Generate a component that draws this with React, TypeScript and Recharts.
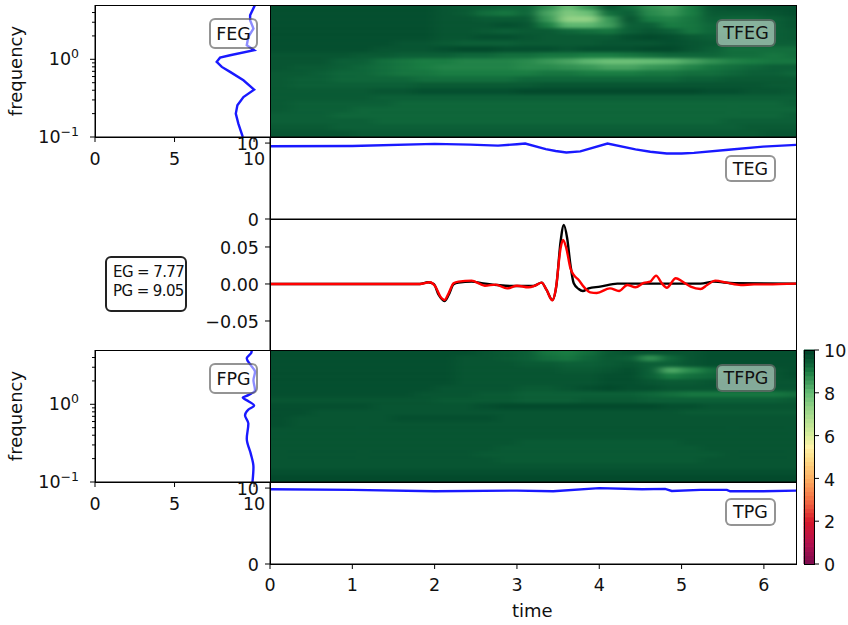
import React from 'react';
import { LineChart, Line, XAxis, YAxis, ReferenceArea } from 'recharts';

const W = 848;
const H = 625;
const FONT = '"DejaVu Sans", sans-serif';

// time / frequency edges of the spectrogram cells (outer edges run past the panel, they get clipped)
const TIME_EDGES = [-0.5, 0.25, 0.5, 0.75, 1, 1.25, 1.5, 1.75, 2, 2.25, 2.5, 2.75, 3, 3.25, 3.5, 3.75, 4, 4.25, 4.5, 4.75, 5, 5.25, 5.5, 5.75, 6, 6.25, 6.9];
const FREQ_EDGES = [0.07, 0.1195, 0.1428, 0.1706, 0.2039, 0.2437, 0.2912, 0.348, 0.4159, 0.497, 0.5939, 0.7098, 0.8482, 1.0137, 1.2114, 1.4477, 1.7301, 2.0676, 2.4709, 2.9529, 3.5289, 4.2173, 7];

// rows run from the top of the panel down
const TFEG_ROWS = [
  [9.7, 9.7, 9.7, 9.7, 9.7, 9.7, 9.7, 9.7, 9.6, 9.5, 9.4, 9.3, 9.3, 8.7, 7.9, 8.6, 9.6, 9.2, 8.7, 8.5, 9.0, 9.6, 9.7, 9.7, 9.7, 9.7],
  [9.7, 9.7, 9.7, 9.7, 9.7, 9.7, 9.7, 9.7, 9.6, 9.5, 9.2, 9.1, 9.3, 8.4, 7.6, 7.9, 9.2, 9.4, 8.8, 8.6, 9.0, 9.5, 9.5, 9.5, 9.6, 9.7],
  [9.7, 9.7, 9.7, 9.7, 9.7, 9.7, 9.7, 9.7, 9.6, 9.6, 9.5, 9.5, 9.5, 8.6, 7.3, 7.3, 8.6, 9.6, 9.0, 8.9, 9.1, 9.4, 9.3, 9.3, 9.4, 9.6],
  [9.7, 9.7, 9.7, 9.7, 9.7, 9.7, 9.7, 9.7, 9.6, 9.6, 9.6, 9.7, 9.6, 9.0, 8.1, 8.1, 8.5, 9.4, 9.4, 9.0, 9.1, 9.3, 9.3, 9.3, 9.4, 9.6],
  [9.7, 9.7, 9.7, 9.7, 9.7, 9.7, 9.7, 9.7, 9.6, 9.6, 9.5, 9.4, 9.5, 9.5, 9.3, 9.2, 9.1, 9.4, 9.6, 9.4, 9.1, 9.3, 9.3, 9.3, 9.4, 9.5],
  [9.7, 9.7, 9.7, 9.7, 9.7, 9.7, 9.7, 9.7, 9.6, 9.6, 9.7, 9.7, 9.6, 9.5, 9.5, 9.5, 9.5, 9.7, 9.8, 9.7, 9.5, 9.4, 9.4, 9.3, 9.4, 9.5],
  [9.7, 9.7, 9.7, 9.7, 9.7, 9.7, 9.6, 9.6, 9.5, 9.4, 9.4, 9.4, 9.5, 9.5, 9.5, 9.5, 9.6, 9.6, 9.6, 9.7, 9.6, 9.5, 9.4, 9.4, 9.4, 9.4],
  [9.7, 9.7, 9.7, 9.7, 9.7, 9.6, 9.6, 9.6, 9.7, 9.8, 9.8, 9.7, 9.7, 9.7, 9.6, 9.7, 9.7, 9.7, 9.8, 9.8, 9.6, 9.4, 9.2, 9.2, 9.2, 9.2],
  [9.6, 9.6, 9.6, 9.6, 9.5, 9.5, 9.4, 9.4, 9.4, 9.3, 9.3, 9.2, 9.2, 9.1, 9.1, 9.0, 9.0, 9.1, 9.2, 9.3, 9.3, 9.3, 9.2, 9.2, 9.1, 9.2],
  [9.6, 9.6, 9.6, 9.4, 9.4, 9.2, 9.1, 9.0, 9.0, 8.9, 8.9, 8.9, 8.8, 8.6, 8.4, 8.1, 7.9, 7.9, 8.0, 8.1, 8.4, 8.7, 8.9, 9.0, 9.1, 9.1],
  [9.6, 9.5, 9.5, 9.4, 9.3, 9.2, 9.1, 9.0, 8.9, 8.9, 8.9, 8.9, 8.8, 8.8, 8.7, 8.6, 8.4, 8.4, 8.6, 8.7, 8.9, 9.1, 9.2, 9.3, 9.4, 9.4],
  [9.5, 9.5, 9.4, 9.3, 9.3, 9.2, 9.1, 9.1, 9.0, 9.0, 9.0, 9.0, 9.0, 9.1, 9.1, 9.0, 9.0, 9.0, 9.1, 9.1, 9.2, 9.2, 9.3, 9.4, 9.4, 9.3],
  [9.5, 9.4, 9.4, 9.3, 9.3, 9.3, 9.3, 9.2, 9.2, 9.2, 9.2, 9.2, 9.3, 9.3, 9.3, 9.3, 9.3, 9.3, 9.3, 9.3, 9.4, 9.4, 9.5, 9.5, 9.5, 9.5],
  [9.5, 9.4, 9.4, 9.4, 9.4, 9.4, 9.4, 9.5, 9.5, 9.5, 9.5, 9.5, 9.5, 9.6, 9.6, 9.6, 9.6, 9.6, 9.6, 9.6, 9.6, 9.6, 9.6, 9.6, 9.5, 9.5],
  [9.5, 9.5, 9.5, 9.5, 9.5, 9.6, 9.6, 9.7, 9.7, 9.7, 9.7, 9.7, 9.8, 9.8, 9.8, 9.8, 9.8, 9.8, 9.8, 9.8, 9.8, 9.7, 9.7, 9.6, 9.6, 9.5],
  [9.5, 9.5, 9.5, 9.5, 9.5, 9.4, 9.4, 9.4, 9.4, 9.4, 9.4, 9.4, 9.4, 9.4, 9.4, 9.4, 9.4, 9.4, 9.4, 9.4, 9.4, 9.4, 9.4, 9.4, 9.4, 9.4],
  [9.5, 9.4, 9.4, 9.4, 9.4, 9.4, 9.3, 9.3, 9.3, 9.3, 9.3, 9.3, 9.3, 9.3, 9.3, 9.3, 9.3, 9.3, 9.3, 9.3, 9.3, 9.3, 9.3, 9.3, 9.3, 9.4],
  [9.5, 9.4, 9.4, 9.4, 9.3, 9.3, 9.3, 9.3, 9.3, 9.3, 9.3, 9.3, 9.3, 9.3, 9.3, 9.3, 9.3, 9.3, 9.3, 9.3, 9.3, 9.3, 9.3, 9.3, 9.3, 9.3],
  [9.4, 9.4, 9.4, 9.3, 9.3, 9.3, 9.3, 9.3, 9.3, 9.3, 9.3, 9.3, 9.3, 9.3, 9.3, 9.3, 9.3, 9.3, 9.3, 9.3, 9.3, 9.3, 9.3, 9.3, 9.3, 9.4],
  [9.4, 9.4, 9.4, 9.4, 9.4, 9.3, 9.3, 9.3, 9.3, 9.3, 9.3, 9.3, 9.3, 9.3, 9.3, 9.3, 9.3, 9.3, 9.3, 9.3, 9.3, 9.3, 9.4, 9.4, 9.4, 9.4],
  [9.5, 9.5, 9.5, 9.4, 9.4, 9.4, 9.4, 9.4, 9.4, 9.4, 9.4, 9.4, 9.4, 9.4, 9.4, 9.4, 9.4, 9.4, 9.4, 9.4, 9.4, 9.4, 9.4, 9.5, 9.5, 9.5],
  [9.6, 9.6, 9.6, 9.6, 9.5, 9.5, 9.5, 9.5, 9.5, 9.5, 9.5, 9.5, 9.5, 9.5, 9.5, 9.5, 9.5, 9.5, 9.5, 9.5, 9.5, 9.5, 9.5, 9.5, 9.6, 9.6],
];

const TFPG_ROWS = [
  [9.7, 9.7, 9.7, 9.7, 9.7, 9.7, 9.7, 9.7, 9.7, 9.7, 9.6, 9.5, 9.4, 9.1, 9.0, 9.2, 9.5, 9.6, 9.6, 9.6, 9.6, 9.7, 9.7, 9.7, 9.7, 9.7],
  [9.7, 9.7, 9.7, 9.7, 9.7, 9.7, 9.7, 9.7, 9.7, 9.6, 9.6, 9.5, 9.4, 9.2, 9.1, 9.3, 9.5, 9.4, 8.7, 9.3, 9.6, 9.7, 9.7, 9.7, 9.7, 9.7],
  [9.7, 9.7, 9.7, 9.7, 9.7, 9.7, 9.7, 9.7, 9.7, 9.6, 9.6, 9.6, 9.5, 9.5, 9.4, 9.4, 9.5, 9.6, 9.4, 9.4, 9.6, 9.7, 9.7, 9.7, 9.7, 9.7],
  [9.7, 9.7, 9.7, 9.7, 9.7, 9.7, 9.7, 9.7, 9.7, 9.6, 9.6, 9.6, 9.6, 9.6, 9.5, 9.5, 9.6, 9.7, 9.4, 8.3, 8.8, 9.2, 9.4, 9.6, 9.6, 9.7],
  [9.7, 9.7, 9.7, 9.7, 9.7, 9.7, 9.7, 9.7, 9.7, 9.6, 9.6, 9.6, 9.6, 9.6, 9.6, 9.6, 9.7, 9.7, 9.4, 9.0, 9.2, 9.3, 9.5, 9.6, 9.6, 9.7],
  [9.7, 9.7, 9.7, 9.7, 9.7, 9.7, 9.7, 9.7, 9.7, 9.6, 9.6, 9.6, 9.6, 9.6, 9.6, 9.6, 9.7, 9.7, 9.6, 9.5, 9.5, 9.6, 9.6, 9.6, 9.6, 9.6],
  [9.7, 9.7, 9.7, 9.7, 9.7, 9.7, 9.7, 9.7, 9.6, 9.6, 9.6, 9.6, 9.5, 9.5, 9.6, 9.7, 9.8, 9.7, 9.7, 9.6, 9.6, 9.6, 9.6, 9.6, 9.6, 9.6],
  [9.7, 9.7, 9.7, 9.7, 9.7, 9.7, 9.7, 9.6, 9.6, 9.6, 9.5, 9.5, 9.4, 9.4, 9.4, 9.4, 9.4, 9.4, 9.3, 9.2, 9.1, 9.1, 9.1, 9.1, 9.1, 9.2],
  [9.6, 9.6, 9.6, 9.6, 9.6, 9.6, 9.6, 9.6, 9.5, 9.5, 9.5, 9.5, 9.4, 9.4, 9.4, 9.5, 9.5, 9.5, 9.4, 9.4, 9.4, 9.4, 9.4, 9.4, 9.4, 9.5],
  [9.7, 9.7, 9.7, 9.7, 9.7, 9.6, 9.6, 9.6, 9.6, 9.6, 9.7, 9.8, 9.8, 9.8, 9.8, 9.8, 9.8, 9.8, 9.8, 9.7, 9.7, 9.6, 9.6, 9.6, 9.6, 9.6],
  [9.7, 9.7, 9.6, 9.6, 9.6, 9.6, 9.6, 9.6, 9.6, 9.6, 9.6, 9.6, 9.6, 9.6, 9.6, 9.6, 9.6, 9.6, 9.6, 9.6, 9.5, 9.5, 9.5, 9.5, 9.5, 9.5],
  [9.7, 9.6, 9.6, 9.6, 9.6, 9.6, 9.7, 9.7, 9.7, 9.7, 9.7, 9.6, 9.6, 9.6, 9.6, 9.6, 9.6, 9.6, 9.6, 9.6, 9.6, 9.6, 9.6, 9.6, 9.6, 9.6],
  [9.7, 9.6, 9.6, 9.6, 9.6, 9.6, 9.6, 9.6, 9.6, 9.6, 9.6, 9.6, 9.6, 9.6, 9.6, 9.6, 9.6, 9.6, 9.6, 9.6, 9.6, 9.6, 9.6, 9.6, 9.6, 9.6],
  [9.6, 9.6, 9.6, 9.6, 9.6, 9.6, 9.6, 9.6, 9.6, 9.6, 9.6, 9.6, 9.6, 9.6, 9.6, 9.6, 9.6, 9.6, 9.6, 9.6, 9.6, 9.6, 9.6, 9.6, 9.6, 9.6],
  [9.6, 9.6, 9.6, 9.6, 9.6, 9.6, 9.6, 9.6, 9.6, 9.6, 9.6, 9.6, 9.6, 9.6, 9.6, 9.6, 9.6, 9.6, 9.6, 9.6, 9.6, 9.6, 9.6, 9.6, 9.6, 9.6],
  [9.6, 9.6, 9.6, 9.6, 9.6, 9.6, 9.6, 9.6, 9.6, 9.6, 9.6, 9.6, 9.5, 9.5, 9.5, 9.5, 9.5, 9.5, 9.5, 9.5, 9.6, 9.6, 9.6, 9.6, 9.6, 9.6],
  [9.6, 9.6, 9.6, 9.6, 9.6, 9.6, 9.6, 9.6, 9.6, 9.6, 9.6, 9.5, 9.5, 9.5, 9.5, 9.5, 9.5, 9.5, 9.5, 9.5, 9.5, 9.6, 9.6, 9.6, 9.6, 9.6],
  [9.6, 9.6, 9.6, 9.6, 9.6, 9.6, 9.6, 9.6, 9.6, 9.6, 9.5, 9.5, 9.5, 9.5, 9.5, 9.5, 9.5, 9.5, 9.5, 9.5, 9.5, 9.5, 9.6, 9.6, 9.6, 9.6],
  [9.6, 9.6, 9.6, 9.6, 9.6, 9.6, 9.6, 9.6, 9.6, 9.6, 9.6, 9.5, 9.5, 9.5, 9.5, 9.5, 9.5, 9.5, 9.5, 9.5, 9.5, 9.6, 9.6, 9.6, 9.6, 9.6],
  [9.6, 9.6, 9.6, 9.6, 9.6, 9.6, 9.6, 9.6, 9.6, 9.6, 9.6, 9.6, 9.6, 9.6, 9.6, 9.6, 9.6, 9.6, 9.6, 9.6, 9.6, 9.6, 9.6, 9.6, 9.6, 9.6],
  [9.7, 9.7, 9.7, 9.7, 9.7, 9.7, 9.7, 9.7, 9.7, 9.7, 9.7, 9.7, 9.7, 9.7, 9.7, 9.7, 9.7, 9.7, 9.7, 9.7, 9.7, 9.7, 9.7, 9.7, 9.7, 9.7],
  [9.8, 9.8, 9.8, 9.8, 9.8, 9.8, 9.8, 9.8, 9.8, 9.8, 9.8, 9.8, 9.8, 9.8, 9.8, 9.8, 9.8, 9.8, 9.8, 9.8, 9.8, 9.8, 9.8, 9.8, 9.8, 9.8],
];

// marginal spectra
const FEG_FREQ = [0.1, 0.1486, 0.2, 0.256, 0.327, 0.407, 0.537, 0.689, 0.798, 0.927, 1.05, 1.127, 1.31, 1.52, 1.95, 2.49, 3.18, 3.7, 4.73, 4.98];
const FEG_POWER = [9.29, 9.01, 8.85, 8.95, 9.33, 10.0, 9.33, 8.49, 7.97, 7.65, 7.86, 8.49, 10.0, 9.54, 9.64, 9.96, 9.75, 9.75, 10.0, 10.05];
const FPG_FREQ = [0.1, 0.156, 0.232, 0.361, 0.565, 0.722, 0.855, 0.964, 1.097, 1.22, 1.31, 1.52, 2.04, 2.62, 3.19, 3.88, 4.73, 4.98];
const FPG_POWER = [9.9, 9.96, 9.79, 9.54, 9.64, 9.43, 9.64, 10.0, 9.64, 9.29, 9.64, 10.06, 9.96, 10.06, 9.79, 9.54, 9.85, 9.8];

// marginal envelopes
const TEG_TIME = [0, 1, 2, 2.43, 2.77, 3, 3.1, 3.35, 3.47, 3.6, 3.77, 4.1, 4.44, 4.62, 4.82, 5.0, 5.15, 5.57, 5.99, 6.39];
const TEG_VALUE = [9.58, 9.62, 9.89, 9.8, 9.67, 9.85, 9.94, 9.21, 8.95, 8.76, 8.9, 9.94, 9.17, 8.85, 8.63, 8.62, 8.71, 9.12, 9.53, 9.76];
const TPG_TIME = [0, 1, 2, 3, 3.44, 4, 4.52, 4.8, 4.88, 5.23, 5.55, 5.59, 5.99, 6.39];
const TPG_VALUE = [9.85, 9.76, 9.58, 9.67, 9.58, 9.99, 9.85, 9.89, 9.62, 9.76, 9.76, 9.58, 9.58, 9.67];

// reference and test signals
const REF_TIME = [0, 1.82, 1.92, 1.99, 2.05, 2.12, 2.17, 2.23, 2.29, 2.45, 2.59, 2.76, 2.92, 3.2, 3.3, 3.36, 3.43, 3.48, 3.53, 3.57, 3.61, 3.65, 3.69, 3.75, 3.8, 3.87, 4.01, 4.22, 4.62, 5.23, 5.39, 5.64, 6.39];
const REF_SIGNAL = [0, 0, 0.0023, 0, -0.0149, -0.023, -0.0149, -0.0005, 0.0018, 0.0032, 0.0009, -0.0014, -0.0027, -0.0027, 0.0018, -0.0081, -0.0216, -0.0014, 0.0572, 0.0797, 0.0617, 0.0257, 0.0009, -0.0068, -0.0095, -0.0059, -0.0036, 0.0005, 0.0005, 0.0005, 0.0032, 0.0009, 0.0005];
const TEST_TIME = [0, 1.82, 1.94, 2.01, 2.07, 2.12, 2.17, 2.23, 2.29, 2.45, 2.55, 2.61, 2.74, 2.88, 3, 3.14, 3.22, 3.3, 3.36, 3.43, 3.47, 3.53, 3.56, 3.6, 3.65, 3.69, 3.75, 3.81, 3.89, 3.97, 4.13, 4.24, 4.34, 4.44, 4.54, 4.62, 4.69, 4.76, 4.82, 4.93, 5.01, 5.11, 5.23, 5.31, 5.41, 5.55, 5.72, 5.88, 6.04, 6.39];
const TEST_SIGNAL = [0, 0, 0.0023, -0.0036, -0.0171, -0.0216, -0.0126, 0.0009, 0.0032, 0.0045, 0, -0.0023, -0.0009, -0.0059, -0.0023, -0.0045, -0.0023, 0.0018, -0.0081, -0.0221, -0.0081, 0.0482, 0.0595, 0.0482, 0.0212, 0.0122, 0.0054, -0.0036, -0.0113, -0.0122, -0.0059, -0.0095, -0.0014, -0.0045, 0.0014, 0.0032, 0.0113, 0.0009, -0.005, 0.0077, 0.0032, -0.0036, -0.0068, -0.0014, 0.0045, 0.0018, -0.0014, -0.0005, -0.0005, 0.0005];

const TIME_TICKS = [0, 1, 2, 3, 4, 5, 6];
const POWER_TICKS = [0, 5, 10];
const ENVELOPE_TICKS = [0, 10];
const SIGNAL_TICKS = [-0.05, 0, 0.05];
const FREQ_TICKS = [0.1, 0.2, 0.3, 0.4, 0.5, 0.6, 0.7, 0.8, 0.9, 1, 2, 3, 4];
const COLORBAR_TICKS = [0, 2, 4, 6, 8, 10];
const COLORBAR_LEVELS = Array.from({ length: 50 }, (_, i) => i / 5);

const TIME_MAX = 6.39;
const POWER_MAX = 11;
const ENVELOPE_MAX = 10.8;

const CMAP: [number, string][] = [
  [0, '#7a0c4e'], [1, '#b5104f'], [2, '#d7182a'], [3, '#f46d43'], [4, '#fdae61'], [5, '#fee08b'],
  [5.5, '#fff3a8'], [6, '#d9ef9b'], [7, '#a6db8d'], [8, '#66bd75'], [9, '#1a7d43'], [9.4, '#0c5f37'], [9.8, '#034a2c'], [10, '#00442a'],
];

const hexToRgb = (h: string) => [1, 3, 5].map((i) => parseInt(h.slice(i, i + 2), 16));

function colorFor(v: number) {
  for (let i = 1; i < CMAP.length; i++) {
    if (v <= CMAP[i][0]) {
      const [v0, c0] = CMAP[i - 1];
      const [v1, c1] = CMAP[i];
      const k = (v - v0) / (v1 - v0);
      const a = hexToRgb(c0);
      const b = hexToRgb(c1);
      return `rgb(${a.map((x, j) => Math.round(x + (b[j] - x) * k)).join(',')})`;
    }
  }
  return CMAP[CMAP.length - 1][1];
}

const zip = (xs: number[], ys: number[], xk: string, yk: string) => xs.map((x, i) => ({ [xk]: x, [yk]: ys[i] }));

const tickStyle = { fontSize: 17.5, fill: '#111', fontFamily: FONT };
const yTickStyle = { ...tickStyle, dy: 1 };
const labelStyle = { fontSize: 18, fill: '#111', fontFamily: FONT };
const axisStroke = '#000';
const TICK_ROWS = TIME_TICKS.map((t) => ({ t }));
const BAR_ROWS = [{ x: 0 }, { x: 1 }];

// margin that puts the plot area exactly on x0..x1, y0..y1 of the page
const marginFor = (x0: number, y0: number, x1: number, y1: number, yw: number, xh: number) => ({
  left: x0 - yw, top: y0, right: W - x1, bottom: H - y1 - xh,
});

const layer: React.CSSProperties = { position: 'absolute', left: 0, top: 0, width: W, height: H };

function Spines({ x0, y0, x1, y1 }: { x0: number; y0: number; x1: number; y1: number }) {
  return <div style={{ position: 'absolute', left: x0 - 0.5, top: y0 - 0.5, width: x1 - x0 + 1, height: y1 - y0 + 1, boxSizing: 'border-box', border: '1px solid #000' }} />;
}

function Heat({ rows, x0, y0, x1, y1 }: { rows: number[][]; x0: number; y0: number; x1: number; y1: number }) {
  const padX = 45;
  const padY = 15;
  const w = x1 - x0;
  const h = y1 - y0;
  return (
    <div style={{ position: 'absolute', left: x0, top: y0, width: w, height: h, overflow: 'hidden' }}>
      <div style={{ position: 'absolute', left: -padX, top: -padY, filter: 'url(#smear)', background: '#02492c' }}>
        <LineChart width={w + padX * 2} height={h + padY * 2} margin={{ left: padX, right: padX, top: padY, bottom: padY }} data={TICK_ROWS}>
          <XAxis hide type="number" dataKey="t" domain={[0, TIME_MAX]} allowDataOverflow />
          <YAxis hide type="number" scale="log" domain={[0.1, 5]} allowDataOverflow />
          {rows.map((row, r) =>
            row.map((v, c) => (
              <ReferenceArea
                key={`${r}-${c}`}
                x1={TIME_EDGES[c]}
                x2={TIME_EDGES[c + 1]}
                y1={FREQ_EDGES[rows.length - 1 - r]}
                y2={FREQ_EDGES[rows.length - r]}
                fill={colorFor(v)}
                fillOpacity={1}
                stroke={colorFor(v)}
                strokeOpacity={1}
                ifOverflow="visible"
              />
            ))
          )}
        </LineChart>
      </div>
    </div>
  );
}

function LogTick({ x, y, payload }: any) {
  const v = payload.value;
  const major = v === 0.1 || v === 1;
  return (
    <g>
      <line x1={x - (major ? 5 : 3)} x2={x} y1={y} y2={y} stroke={axisStroke} strokeWidth={1} />
      {major && (
        <text x={x - 16} y={y + 6} textAnchor="end" {...tickStyle}>
          10
          <tspan dy={-7} fontSize={12.5}>{v === 1 ? '0' : '−1'}</tspan>
        </text>
      )}
    </g>
  );
}

function SpectrumPanel({ freq, power, y0, y1, curve }: { freq: number[]; power: number[]; y0: number; y1: number; curve: 'linear' | 'monotoneY' }) {
  const data = zip(freq, power, 'f', 'p');
  return (
    <div style={layer}>
      <LineChart layout="vertical" width={W} height={H} data={data} margin={marginFor(95, y0, 270, y1, 85, 30)}>
        <XAxis type="number" domain={[0, POWER_MAX]} ticks={POWER_TICKS} height={30} interval={0} tick={tickStyle} tickSize={5} tickMargin={11} stroke={axisStroke} allowDataOverflow />
        <YAxis
          type="number"
          dataKey="f"
          scale="log"
          reversed
          domain={[0.1, 5]}
          ticks={FREQ_TICKS}
          interval={0}
          width={85}
          tick={<LogTick />}
          tickLine={false}
          tickSize={0}
          tickMargin={0}
          stroke={axisStroke}
          allowDataOverflow
          label={{ value: 'frequency', angle: -90, position: 'insideLeft', offset: 6, style: { ...labelStyle, textAnchor: 'middle' } }}
        />
        <Line type={curve} dataKey="p" stroke="#0000ff" strokeOpacity={0.9} strokeWidth={2.4} dot={false} isAnimationActive={false} />
      </LineChart>
    </div>
  );
}

function EnvelopePanel({ time, value, y0, y1 }: { time: number[]; value: number[]; y0: number; y1: number }) {
  const data = zip(time, value, 't', 'v');
  return (
    <div style={layer}>
      <LineChart width={W} height={H} data={data} margin={marginFor(270, y0, 796, y1, 60, 30)}>
        <XAxis type="number" dataKey="t" domain={[0, TIME_MAX]} ticks={TIME_TICKS} interval={0} height={30} tick={y1 > 500 ? tickStyle : false} tickSize={5} tickMargin={10} stroke={axisStroke} allowDataOverflow />
        <YAxis type="number" domain={[0, ENVELOPE_MAX]} ticks={ENVELOPE_TICKS} interval={0} width={60} tick={yTickStyle} tickSize={5} tickMargin={6} stroke={axisStroke} allowDataOverflow />
        <Line type="linear" dataKey="v" stroke="#0000ff" strokeOpacity={0.9} strokeWidth={2.4} dot={false} isAnimationActive={false} />
      </LineChart>
    </div>
  );
}

// only carries the tick marks under a spectrogram
function TimeTicks({ y }: { y: number }) {
  return (
    <div style={layer}>
      <LineChart width={W} height={H} data={TICK_ROWS} margin={marginFor(270, y - 10, 796, y, 0, 30)}>
        <XAxis type="number" dataKey="t" domain={[0, TIME_MAX]} ticks={TIME_TICKS} interval={0} height={30} tick={false} tickSize={5} stroke={axisStroke} allowDataOverflow />
        <YAxis hide type="number" domain={[0, 1]} />
      </LineChart>
    </div>
  );
}

function TextBox({ text, left, top, width, height, dark }: { text: string; left: number; top: number; width: number; height: number; dark?: boolean }) {
  return (
    <div
      style={{
        position: 'absolute', left, top, width, height, boxSizing: 'border-box',
        background: 'rgba(255,255,255,0.5)',
        border: `2px solid ${dark ? 'rgba(20,20,20,0.45)' : 'rgba(0,0,0,0.42)'}`,
        borderRadius: 6, display: 'flex', alignItems: 'center', justifyContent: 'center',
        fontFamily: FONT, fontSize: 17.5, color: '#111',
      }}
    >
      {text}
    </div>
  );
}

export default function App() {
  const signalFmt = (v: number) => (v < 0 ? `−${Math.abs(v).toFixed(2)}` : v.toFixed(2));
  return (
    <div style={{ position: 'absolute', left: 0, top: 0, width: W, height: H, background: '#fff', overflow: 'hidden' }}>
      <svg width={0} height={0} style={{ position: 'absolute' }}>
        <filter id="smear" x="-10%" y="-10%" width="120%" height="120%" colorInterpolationFilters="sRGB">
          <feGaussianBlur stdDeviation="6.5 1.6" />
        </filter>
      </svg>

      <EnvelopePanel time={TEG_TIME} value={TEG_VALUE} y0={137} y1={219} />
      <SpectrumPanel freq={FEG_FREQ} power={FEG_POWER} y0={5} y1={137} curve="linear" />

      <div style={layer}>
        <LineChart width={W} height={H} data={TICK_ROWS} margin={marginFor(270, 219, 796, 350, 60, 0)}>
          <XAxis hide type="number" dataKey="t" domain={[0, TIME_MAX]} allowDataOverflow />
          <YAxis
            type="number"
            domain={[-0.0892, 0.0878]}
            ticks={SIGNAL_TICKS}
            interval={0}
            width={60}
            tick={yTickStyle}
            tickFormatter={signalFmt}
            tickSize={5}
            tickMargin={6}
            stroke={axisStroke}
            allowDataOverflow
          />
          <Line data={zip(REF_TIME, REF_SIGNAL, 't', 'v')} type="monotone" dataKey="v" stroke="#000" strokeWidth={2.4} dot={false} isAnimationActive={false} />
          <Line data={zip(TEST_TIME, TEST_SIGNAL, 't', 'v')} type="monotone" dataKey="v" stroke="#ff0000" strokeWidth={2.4} dot={false} isAnimationActive={false} />
        </LineChart>
      </div>

      <Heat rows={TFEG_ROWS} x0={270} y0={5} x1={796} y1={137} />
      <TimeTicks y={137} />
      <Heat rows={TFPG_ROWS} x0={270} y0={350} x1={796} y1={482} />

      <EnvelopePanel time={TPG_TIME} value={TPG_VALUE} y0={482} y1={564} />
      <TimeTicks y={482} />
      <SpectrumPanel freq={FPG_FREQ} power={FPG_POWER} y0={350} y1={482} curve="monotoneY" />

      {/* colour bar */}
      <div style={layer}>
        <LineChart width={W} height={H} data={BAR_ROWS} margin={{ left: 804, top: 350, right: 0, bottom: H - 564 }}>
          <XAxis hide type="number" dataKey="x" domain={[0, 1]} allowDataOverflow />
          <YAxis orientation="right" type="number" domain={[0, 10]} ticks={COLORBAR_TICKS} interval={0} width={34} tick={yTickStyle} tickSize={5} tickMargin={5} stroke={axisStroke} axisLine={false} allowDataOverflow />
          {COLORBAR_LEVELS.map((v) => (
            <ReferenceArea key={v} x1={0} x2={1} y1={v} y2={v + 0.2} fill={colorFor(v + 0.1)} fillOpacity={1} stroke={colorFor(v + 0.1)} ifOverflow="visible" />
          ))}
        </LineChart>
      </div>

      <Spines x0={95} y0={5} x1={270} y1={137} />
      <Spines x0={270} y0={5} x1={796} y1={137} />
      <Spines x0={270} y0={137} x1={796} y1={219} />
      <Spines x0={270} y0={219} x1={796} y1={350} />
      <Spines x0={270} y0={350} x1={796} y1={482} />
      <Spines x0={95} y0={350} x1={270} y1={482} />
      <Spines x0={270} y0={482} x1={796} y1={564} />
      <Spines x0={804} y0={350} x1={814} y1={564} />

      <TextBox text="FEG" left={209} top={18} width={49} height={31} />
      <TextBox text="TFEG" left={716} top={19} width={60} height={28} dark />
      <TextBox text="TEG" left={725} top={155} width={51} height={27} />
      <TextBox text="FPG" left={209} top={363} width={49} height={31} />
      <TextBox text="TFPG" left={716} top={364} width={60} height={28} dark />
      <TextBox text="TPG" left={725} top={498} width={51} height={28} />

      <div
        style={{
          position: 'absolute', left: 105, top: 256, width: 82, height: 56, boxSizing: 'border-box',
          background: 'rgba(255,255,255,0.8)', border: '2px solid #222', borderRadius: 6,
          fontFamily: FONT, fontSize: 15, letterSpacing: -0.6, lineHeight: '19px', color: '#111', padding: '5px 0 0 6px', whiteSpace: 'pre',
        }}
      >
        {'EG = 7.77\nPG = 9.05'}
      </div>

      <div style={{ position: 'absolute', left: 512, top: 600, fontFamily: FONT, fontSize: 18, color: '#111' }}>time</div>
    </div>
  );
}
